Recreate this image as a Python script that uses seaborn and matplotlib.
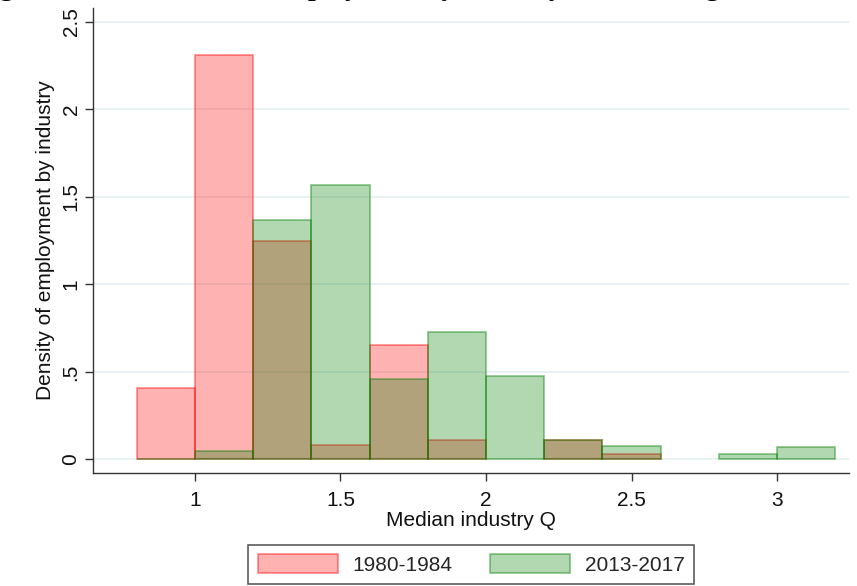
import numpy as np
import pandas as pd
import seaborn as sns
import matplotlib.pyplot as plt
import matplotlib.patches as mpatches
from matplotlib.colors import to_rgba

# ---- data ----
bin_edges = [0.8, 1.0, 1.2, 1.4, 1.6, 1.8, 2.0, 2.2, 2.4, 2.6, 2.8, 3.0, 3.2]
bin_centers = [0.9, 1.1, 1.3, 1.5, 1.7, 1.9, 2.1, 2.3, 2.5, 2.7, 2.9, 3.1]
density_1980_1984 = [0.41, 2.31, 1.245, 0.083, 0.656, 0.111, 0.0, 0.111, 0.03, 0.0, 0.0, 0.0]
density_2013_2017 = [0.004, 0.05, 1.369, 1.57, 0.457, 0.728, 0.478, 0.111, 0.076, 0.0, 0.028, 0.068]
series_labels = ["1980-1984", "2013-2017"]
x_ticks = [1, 1.5, 2, 2.5, 3]
x_tick_labels = ["1", "1.5", "2", "2.5", "3"]
y_ticks = [0, 0.5, 1, 1.5, 2, 2.5]
y_tick_labels = ["0", ".5", "1", "1.5", "2", "2.5"]

sns.set_style("white")
plt.rcParams['font.family'] = ['Liberation Sans', 'DejaVu Sans']

W, H = 857, 586
fig = plt.figure(figsize=(W / 100, H / 100), dpi=100)
ax = fig.add_axes([93 / W, 1 - 473 / H, (849 - 93) / W, (473 - 8) / H])

colors = [(1.0, 0.0, 0.0), (0.0, 0.5, 0.0)]
alpha = 0.3
edge_alpha = 0.42

df = pd.DataFrame({"center": bin_centers,
                   series_labels[0]: density_1980_1984,
                   series_labels[1]: density_2013_2017})

for lab, col in zip(series_labels, colors):
    sns.histplot(data=df, x="center", weights=lab, bins=bin_edges, stat="count",
                 color=col, alpha=alpha, edgecolor=to_rgba(col, edge_alpha),
                 linewidth=1.3, ax=ax)

# remove empty bins (no bar drawn in reference)
for p in list(ax.patches):
    if p.get_height() == 0:
        p.remove()

ax.set_xlim(0.65, 3.247)
ax.set_ylim(-0.078, 2.579)

ax.set_xticks(x_ticks)
ax.set_xticklabels(x_tick_labels)
ax.set_yticks(y_ticks)
ax.set_yticklabels(y_tick_labels, rotation=90, va="center")

ax.yaxis.grid(True, color="#e8f0f2", linewidth=1.3)
ax.set_axisbelow(True)
for s in ["top", "right"]:
    ax.spines[s].set_visible(False)
for s in ["left", "bottom"]:
    ax.spines[s].set_color("#333333")
    ax.spines[s].set_linewidth(1.0)

ax.tick_params(axis="both", direction="out", length=6, width=1.0, color="#333333",
               labelsize=15, labelcolor="#111111")
ax.tick_params(axis="x", pad=7, bottom=True)
ax.tick_params(axis="y", pad=3, left=True)

ax.set_xlabel("Median industry Q", fontsize=15, color="#111111", labelpad=1)
ax.set_ylabel("Density of employment by industry", fontsize=15, color="#111111", labelpad=5)

handles = [mpatches.Patch(facecolor=to_rgba(c, alpha), edgecolor=to_rgba(c, edge_alpha), linewidth=1.3)
           for c in colors]
leg = fig.legend(handles, series_labels, loc="center", bbox_to_anchor=(0.550, 0.0367),
                 ncol=2, fontsize=15, handlelength=3.85, handleheight=1.0,
                 handletextpad=0.72, columnspacing=1.78, borderpad=0.45,
                 frameon=True, fancybox=False, edgecolor="#333333")
leg.get_frame().set_linewidth(1.2)

# clipped figure title (only its lower part is visible in the reference)
fig.text(-25 / W, 1 + 5 / H, "Figure 5: Distribution of employment by industry Q, excluding",
         family=["Liberation Serif", "DejaVu Serif"], fontweight="bold", fontsize=20,
         va="baseline", ha="left", color="black")

fig.savefig("out.png", dpi=100)
